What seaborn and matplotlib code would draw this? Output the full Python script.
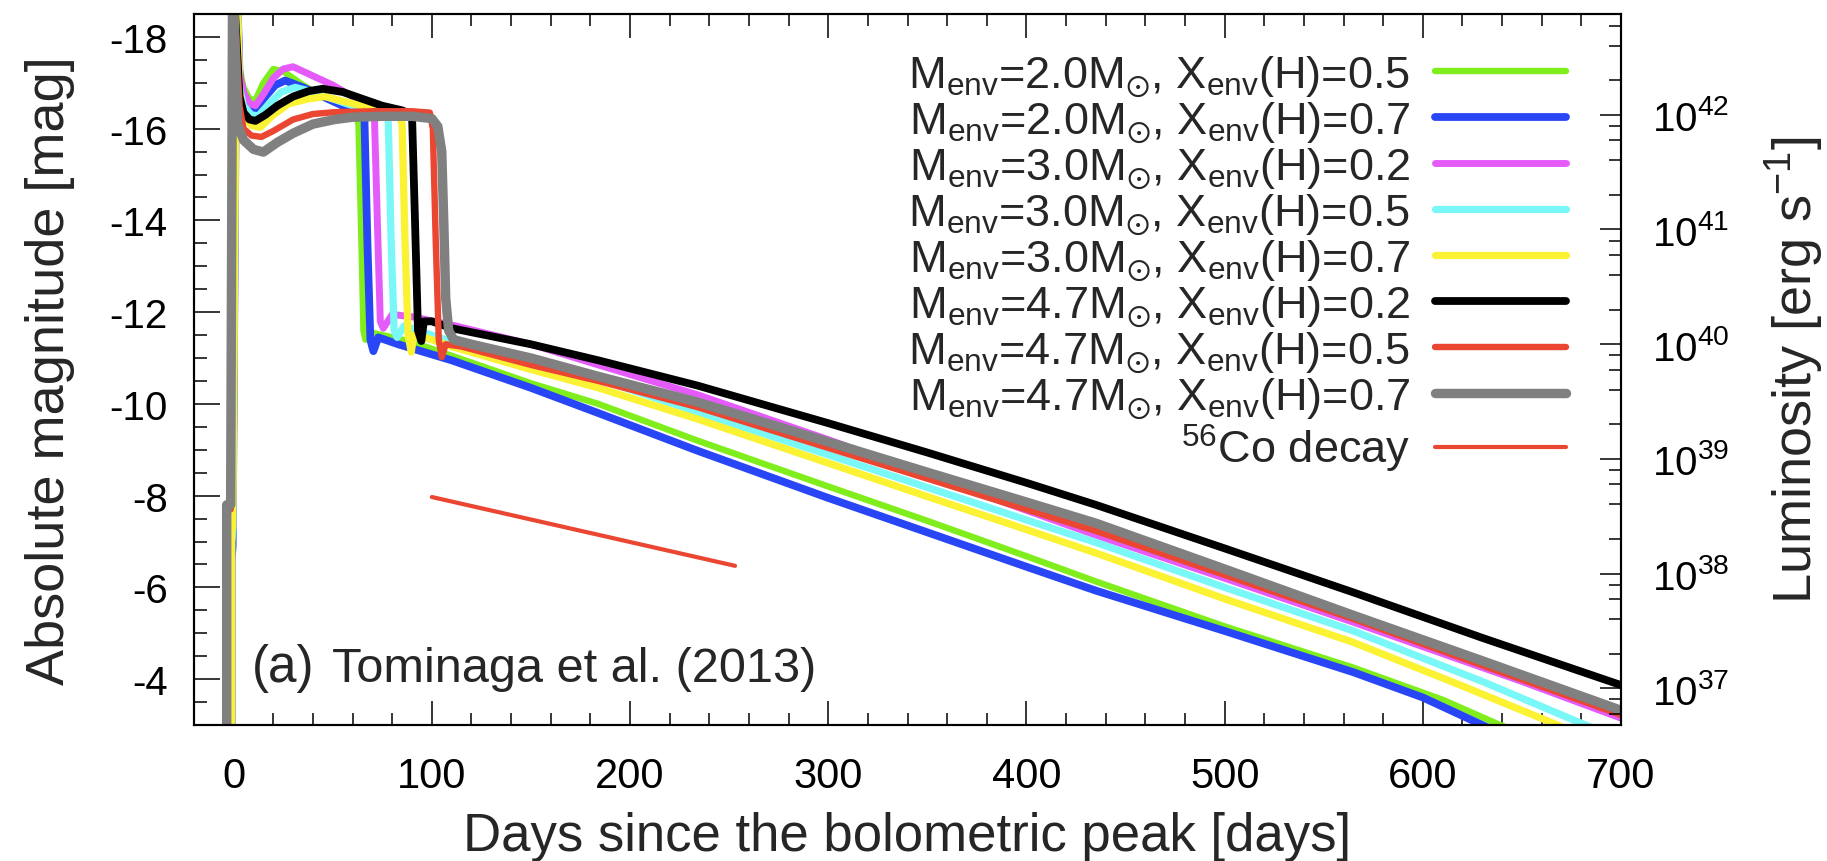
import numpy as np
import pandas as pd
import matplotlib
matplotlib.use("Agg")
import matplotlib.pyplot as plt
import seaborn as sns
from matplotlib.ticker import MultipleLocator, LogLocator, LogFormatterMathtext, NullFormatter

# ---------------- data ----------------
days_m20_x05 = [-1.0, -1.0, -0.5, 1.5, 3, 5, 8, 11, 15, 20, 25, 35, 45, 55, 61, 63, 64.5, 65.5, 66.5, 70, 90, 110,
                150, 184, 234, 300, 350, 400, 435, 500, 565, 610, 639, 645]
mag_m20_x05 = [-2.5, -7.0, -7.2, -19.5, -17.3, -16.9, -16.65, -16.62, -17.0, -17.3, -17.25, -16.95, -16.7, -16.5,
               -16.4, -16.1, -13.5, -11.6, -11.4, -11.55, -11.35, -11.05, -10.45, -10.0, -9.2, -8.2, -7.45, -6.68,
               -6.13, -5.15, -4.25, -3.55, -3.0, -2.9]

days_m20_x07 = [-1.0, -1.0, -0.5, 1.5, 3, 5, 8, 11, 16, 21, 26, 35, 45, 55, 63, 66, 67.5, 69, 70.5, 73, 83, 110,
                150, 184, 234, 300, 350, 400, 435, 500, 565, 600, 630, 635]
mag_m20_x07 = [-2.5, -6.6, -6.9, -19.5, -17.1, -16.6, -16.42, -16.4, -16.7, -16.95, -17.05, -16.9, -16.7, -16.5,
               -16.4, -16.2, -13.5, -11.4, -11.15, -11.45, -11.3, -10.95, -10.35, -9.8, -8.98, -7.95, -7.2, -6.45,
               -5.93, -5.05, -4.15, -3.6, -3.0, -2.9]

days_m30_x02 = [-1.0, -1.0, -0.5, 1.5, 3, 5, 8, 11, 15, 20, 25, 30, 40, 50, 60, 68, 71, 72.5, 74, 75.5, 80, 90, 110,
                150, 184, 234, 300, 350, 400, 435, 500, 565, 650, 700]
mag_m30_x02 = [-2.5, -7.0, -7.2, -19.5, -17.2, -16.8, -16.55, -16.5, -16.75, -17.1, -17.3, -17.35, -17.15, -16.95,
               -16.7, -16.5, -16.3, -14.0, -11.8, -11.65, -11.95, -11.9, -11.72, -11.3, -10.85, -10.2, -9.22, -8.45,
               -7.68, -7.14, -6.2, -5.24, -3.95, -3.15]

days_m30_x05 = [-1.0, -1.0, -0.5, 1.5, 3, 5, 9, 12.5, 18, 24, 31, 40, 50, 60, 72, 78, 79.5, 81, 82.5, 86, 100, 110,
                150, 184, 234, 300, 350, 400, 435, 500, 565, 630, 682, 688]
mag_m30_x05 = [-2.5, -7.0, -7.2, -19.5, -16.9, -16.5, -16.3, -16.28, -16.55, -16.8, -16.9, -16.8, -16.65, -16.5,
               -16.4, -16.2, -13.5, -11.6, -11.45, -11.7, -11.5, -11.35, -10.95, -10.55, -9.82, -8.89, -8.18, -7.47,
               -6.98, -6.0, -5.05, -3.95, -3.0, -2.9]

days_m30_x07 = [-1.0, -1.0, -0.5, 1.5, 3, 5, 9, 13.4, 20, 28, 38, 46, 55, 70, 83, 85, 86.5, 88, 89.6, 91, 100, 110,
                150, 184, 234, 300, 350, 400, 435, 500, 565, 620, 668, 672]
mag_m30_x07 = [-2.5, -7.3, -7.3, -19.5, -16.8, -16.3, -16.07, -16.03, -16.3, -16.55, -16.65, -16.7, -16.6, -16.45,
               -16.35, -16.1, -13.5, -11.5, -11.13, -11.5, -11.4, -11.25, -10.75, -10.35, -9.67, -8.71, -7.98, -7.26,
               -6.75, -5.75, -4.8, -3.85, -3.0, -2.9]

days_m47_x02 = [-3.5, -3.5, -1.5, -0.5, 3, 5, 8, 11, 16, 22, 30, 38, 45, 55, 65, 75, 85, 90, 91.5, 93, 94.7, 96,
                100, 110, 150, 184, 234, 300, 350, 400, 435, 500, 565, 630, 700]
mag_m47_x02 = [-2.5, -7.8, -7.8, -19.5, -16.7, -16.35, -16.2, -16.17, -16.3, -16.5, -16.7, -16.82, -16.87, -16.8,
               -16.65, -16.5, -16.4, -16.3, -14.0, -11.6, -11.37, -11.8, -11.8, -11.65, -11.3, -10.95, -10.4, -9.58,
               -8.94, -8.28, -7.8, -6.85, -5.89, -4.9, -3.87]

days_m47_x05 = [-3.5, -3.5, -1.5, -0.5, 3, 5, 9, 14, 20, 30, 40, 51, 70, 90, 99, 100.5, 102, 103.5, 105, 107, 115,
                150, 184, 234, 300, 350, 400, 435, 500, 565, 630, 700]
mag_m47_x05 = [-2.5, -7.7, -7.7, -19.5, -16.5, -16.0, -15.85, -15.82, -15.95, -16.2, -16.32, -16.36, -16.38, -16.38,
               -16.35, -16.0, -13.5, -11.4, -11.02, -11.3, -11.25, -10.85, -10.5, -9.93, -9.04, -8.37, -7.7, -7.23,
               -6.27, -5.31, -4.3, -3.22]

days_m47_x07 = [-3.5, -3.5, -1.5, -0.5, 2.0, 5, 10, 15, 22, 30, 40, 51, 60, 75, 90, 100, 103, 105, 106, 107, 108.5,
                111, 120, 150, 184, 234, 300, 350, 400, 435, 500, 565, 630, 700]
mag_m47_x07 = [-2.5, -7.8, -7.8, -19.5, -16.1, -15.75, -15.55, -15.49, -15.7, -15.9, -16.1, -16.2, -16.25, -16.27,
               -16.27, -16.22, -16.05, -15.5, -14.0, -12.3, -11.6, -11.4, -11.3, -11.0, -10.6, -10.04, -9.17, -8.51,
               -7.86, -7.4, -6.4, -5.39, -4.4, -3.32]

days_co = [100, 253]
mag_co = [-7.97, -6.47]

labels = [
    r"M$_{\rm env}$=2.0M$_{\odot}$, X$_{\rm env}$(H)=0.5",
    r"M$_{\rm env}$=2.0M$_{\odot}$, X$_{\rm env}$(H)=0.7",
    r"M$_{\rm env}$=3.0M$_{\odot}$, X$_{\rm env}$(H)=0.2",
    r"M$_{\rm env}$=3.0M$_{\odot}$, X$_{\rm env}$(H)=0.5",
    r"M$_{\rm env}$=3.0M$_{\odot}$, X$_{\rm env}$(H)=0.7",
    r"M$_{\rm env}$=4.7M$_{\odot}$, X$_{\rm env}$(H)=0.2",
    r"M$_{\rm env}$=4.7M$_{\odot}$, X$_{\rm env}$(H)=0.5",
    r"M$_{\rm env}$=4.7M$_{\odot}$, X$_{\rm env}$(H)=0.7",
    r"$^{56}$Co decay",
]
colors = ["#7FEE1C", "#2846F5", "#E55BFA", "#7AF8F8", "#FAF232", "#000000", "#EA4632", "#808080", "#EA4632"]
widths = [4.6, 5.6, 5.0, 5.2, 5.2, 5.6, 4.6, 6.8, 3.0]

x_ticks = [0, 100, 200, 300, 400, 500, 600, 700]

# ---------------- style ----------------
sns.set_style("ticks")
plt.rcParams["font.family"] = ["Liberation Sans", "DejaVu Sans"]
plt.rcParams["mathtext.fontset"] = "custom"
plt.rcParams["mathtext.rm"] = "Liberation Sans"
plt.rcParams["mathtext.it"] = "Liberation Sans:italic"
plt.rcParams["mathtext.bf"] = "Liberation Sans:bold"
plt.rcParams["mathtext.sf"] = "Liberation Sans"
plt.rcParams["mathtext.fallback"] = "stixsans"
plt.rcParams["axes.unicode_minus"] = False
plt.rcParams["axes.edgecolor"] = "black"
plt.rcParams["xtick.color"] = "black"
plt.rcParams["ytick.color"] = "black"

fig = plt.figure(figsize=(18.27, 8.62), dpi=100)
ax = fig.add_axes([194 / 1827, 136 / 862, 1427 / 1827, 711 / 862])

series = [
    (days_m20_x05, mag_m20_x05), (days_m20_x07, mag_m20_x07), (days_m30_x02, mag_m30_x02),
    (days_m30_x05, mag_m30_x05), (days_m30_x07, mag_m30_x07), (days_m47_x02, mag_m47_x02),
    (days_m47_x05, mag_m47_x05), (days_m47_x07, mag_m47_x07), (days_co, mag_co),
]
for (d, m), lab, c, lw in zip(series, labels, colors, widths):
    sns.lineplot(x=d, y=m, ax=ax, color=c, linewidth=lw, sort=False, estimator=None,
                 label=lab, solid_joinstyle="round")

ax.set_xlim(-20, 700)
ax.set_ylim(-3, -18.5)
ax.set_xticks(x_ticks)
ax.xaxis.set_minor_locator(MultipleLocator(20))
ax.yaxis.set_major_locator(MultipleLocator(2))
ax.yaxis.set_minor_locator(MultipleLocator(0.5))
ax.tick_params(axis="both", which="both", direction="in", top=True, right=False, width=1.1)
ax.tick_params(axis="x", which="major", length=17, labelsize=30, pad=22)
ax.tick_params(axis="x", which="minor", length=8.5)
ax.tick_params(axis="y", which="major", length=18.5, labelsize=29, pad=19)
ax.tick_params(axis="y", which="minor", length=9.4)
for s in ax.spines.values():
    s.set_linewidth(1.5)

ax.set_xlabel("Days since the bolometric peak [days]", fontsize=38, labelpad=11)
ax.set_ylabel("Absolute magnitude [mag]", fontsize=39, labelpad=25)

# right axis: luminosity
def lum(mag):
    return 3.828e33 * 10 ** ((4.74 - mag) / 2.5)

ax2 = ax.twinx()
ax2.set_yscale("log")
ax2.set_ylim(lum(-3), lum(-18.5))
ax2.yaxis.set_major_locator(LogLocator(base=10, numticks=30))
ax2.yaxis.set_minor_locator(LogLocator(base=10, subs=(2, 4, 6, 8), numticks=30))
ax2.yaxis.set_major_formatter(LogFormatterMathtext())
ax2.yaxis.set_minor_formatter(NullFormatter())
ax2.tick_params(axis="y", which="major", direction="in", length=15, width=1.1, labelsize=29, pad=22)
ax2.tick_params(axis="y", which="minor", direction="in", length=9, width=1.1)
for s in ax2.spines.values():
    s.set_linewidth(1.5)
ax2.set_ylabel(r"Luminosity [erg s$^{-1}$]", fontsize=39, labelpad=25)

# legend
h, l = ax.get_legend_handles_labels()
ax.legend(h, l, loc="upper right", bbox_to_anchor=(0.9615, 0.944), frameon=False, fontsize=32.5,
          markerfirst=False, handlelength=2.9, handletextpad=0.55, labelspacing=0.03,
          borderpad=0, borderaxespad=0)

ax.text(0.0406, 0.0623, "(a)", transform=ax.transAxes, fontsize=37, ha="left", va="baseline")
ax.text(0.0967, 0.0623, "Tominaga et al. (2013)", transform=ax.transAxes, fontsize=35,
        ha="left", va="baseline")

fig.savefig("out.png", dpi=100)
